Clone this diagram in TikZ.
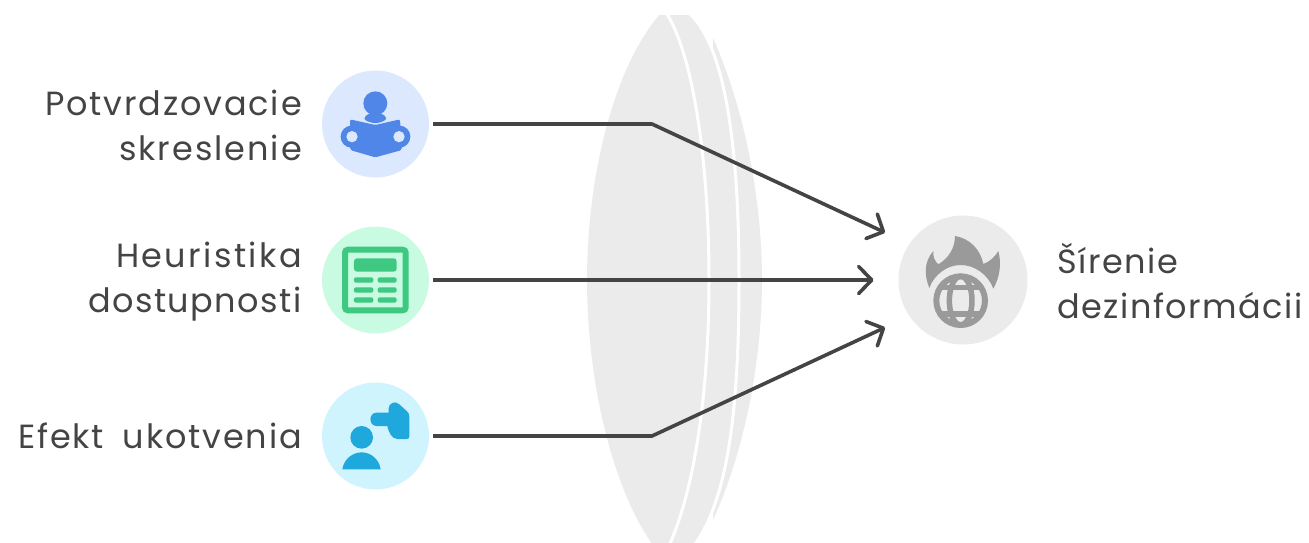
\documentclass[tikz,border=0pt]{standalone}
\usepackage{fontspec}
\setmainfont{Poppins}[LetterSpace=4.5]
\usetikzlibrary{arrows.meta}
\definecolor{lensgray}{HTML}{EBEBEB}
\definecolor{ink}{HTML}{444444}
\definecolor{blueBg}{HTML}{DBE8FE}
\definecolor{blueFg}{HTML}{4F86E8}
\definecolor{greenBg}{HTML}{C9FBE3}
\definecolor{greenFg}{HTML}{3EC882}
\definecolor{cyanBg}{HTML}{CFF4FE}
\definecolor{cyanFg}{HTML}{1FA8DC}
\definecolor{grayFg}{HTML}{9A9A9A}
\newcommand{\spaced}[2]{{\addfontfeature{LetterSpace=#1}#2}}
\tikzset{
  disc/.style={circle,inner sep=0pt,outer sep=0pt,minimum size=107pt,fill=#1},
  sinkdisc/.style={circle,inner sep=0pt,outer sep=0pt,minimum size=129pt,fill=lensgray},
  lbl/.style={text=ink,font=\fontsize{33.5}{45}\selectfont,inner sep=0pt,align=#1},
  flow/.style={draw=ink,line width=3.6pt,line join=round,shorten <=4pt,
    -{Straight Barb[length=13pt,width=27pt,line width=3.6pt,round]}},
  zoomA/.style={shift={(310,60)},x=.3333pt,y=-.3333pt},
  zoomB/.style={shift={(310,220)},x=.3333pt,y=-.3333pt},
  zoomC/.style={shift={(310,375)},x=.3333pt,y=-.3333pt},
  zoomD/.style={shift={(860,200)},x=.3333pt,y=-.3333pt},
}
\begin{document}
\begin{tikzpicture}[x=1pt,y=-1pt]
\useasboundingbox (0,0) rectangle (1309,542);
% lens
\begin{scope}
\clip (0,15) rectangle (1309,542);
\fill[lensgray] (713,38) .. controls (745,110) and (762,200) .. (762,280)
  .. controls (762,360) and (745,450) .. (713,520) -- cycle;
\fill[lensgray] (690,14) .. controls (726,48) and (739,150) .. (739,280)
  .. controls (739,400) and (730,500) .. (692,548) -- (655,548)
  .. controls (612,490) and (587,380) .. (587,280)
  .. controls (587,180) and (612,70) .. (660,14) -- cycle;
\draw[white,line width=3pt] (690,14) .. controls (726,48) and (739,150) .. (739,280)
  .. controls (739,400) and (730,500) .. (692,548);
\draw[white,line width=3pt] (667,14) .. controls (695,60) and (709,170) .. (709,280)
  .. controls (709,390) and (695,490) .. (668,548);
\end{scope}
% nodes
\node[disc=blueBg] (a) at (375.5,124) {};
\node[disc=greenBg] (b) at (375.5,280) {};
\node[disc=cyanBg] (c) at (375.5,436) {};
\node[sinkdisc] (sink) at (963,280) {};
\coordinate (e1) at (652,124);
\coordinate (e3) at (652,436);
% connectors
\draw[flow,shorten >=27pt] (a.east) -- (e1) -- (sink.146);
\draw[flow,shorten >=25pt] (b.east) -- (sink.west);
\draw[flow,shorten >=27pt] (c.east) -- (e3) -- (sink.214);
% labels
\node[lbl=right,anchor=east] (la) at (302,125) {\spaced{5.5}{Potvrdzovacie}\\\spaced{5.8}{skreslenie}};
\node[lbl=right,anchor=east] (lb) at (302,282) {\spaced{7.2}{Heuristika}\\dostupnosti};
\node[lbl=right,anchor=east] (lc) at (302,436) {\spaced{5.5}{Efekt\hspace{8pt} ukotvenia}};
\node[lbl=left,anchor=west] (ls) at (1057,281) {Šírenie\\dezinformácii};
% reader icon
\begin{scope}[zoomA]
\fill[blueFg] (196,130) circle[radius=36];
\fill[blueFg,rounded corners=5pt] (156,178) -- (178,158) -- (214,158) -- (236,178) -- (196,192) -- cycle;
\draw[blueFg,line width=6pt] (125,230) circle[radius=24];
\draw[blueFg,line width=6pt] (268,230) circle[radius=24];
\fill[blueFg,rounded corners=2pt] (120,178) -- (196,195) -- (270,178) -- (276,270) -- (196,292) -- (120,270) -- cycle;
\fill[blueBg] (126,230) circle[radius=17];
\fill[blueBg] (267,230) circle[radius=17];
\end{scope}
% table icon
\begin{scope}[zoomB]
\draw[greenFg,line width=6pt,rounded corners=3pt] (105,89) rectangle (287,271);
\fill[greenFg,rounded corners=3pt] (132,115) rectangle (260,155);
\foreach \yy in {172,202,232}{
  \fill[greenFg,rounded corners=2pt] (132,\yy) rectangle (190,\yy+16);
  \fill[greenFg,rounded corners=2pt] (203,\yy) rectangle (260,\yy+16);
}
\end{scope}
% anchor icon
\begin{scope}[zoomC]
\fill[cyanFg] (155,187) circle[radius=34];
\fill[cyanFg] (97,283) .. controls (102,250) and (130,232) .. (155,232) .. controls (180,232) and (207,250) .. (212,283) -- cycle;
\fill[cyanFg] (200,113) -- (236,113) -- (236,100)
  .. controls (236,85) and (255,75) .. (268,88)
  -- (290,108) .. controls (296,113) and (298,118) .. (298,125)
  -- (298,184) .. controls (298,190) and (295,192) .. (290,192)
  -- (262,192) .. controls (245,192) and (235,170) .. (232,153)
  -- (200,153) .. controls (175,153) and (175,113) .. (200,113) -- cycle;
\end{scope}
% fire-globe icon
\begin{scope}[zoomD]
\fill[grayFg] (208,264) .. controls (192,225) and (192,185) .. (220,153)
  .. controls (218,170) and (225,185) .. (235,193)
  .. controls (265,175) and (285,145) .. (285,108)
  .. controls (330,115) and (362,150) .. (370,192)
  .. controls (390,185) and (405,170) .. (415,153)
  .. controls (425,190) and (420,230) .. (400,266)
  .. controls (385,225) and (345,195) .. (302,195)
  .. controls (260,195) and (222,225) .. (208,264) -- cycle;
\draw[grayFg,line width=6pt,fill=lensgray] (302,302) circle[radius=73];
\draw[grayFg,line width=5.5pt] (302,302) ellipse[x radius=34,y radius=73];
\draw[grayFg,line width=5.5pt] (236,262) -- (368,262);
\draw[grayFg,line width=5.5pt] (236,342) -- (368,342);
\end{scope}
\end{tikzpicture}
\end{document}
